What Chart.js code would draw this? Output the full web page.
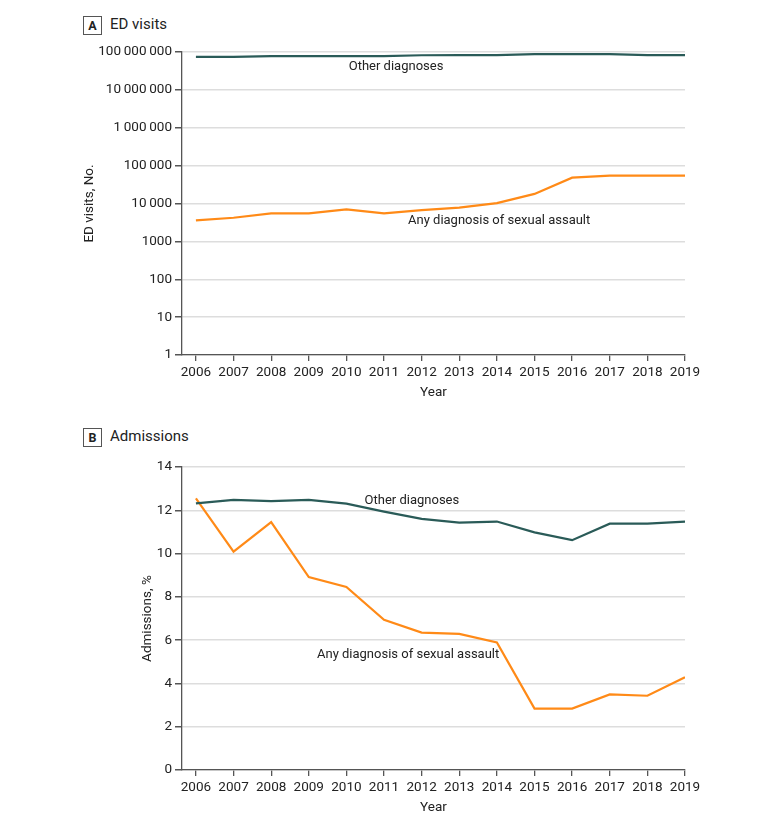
<!DOCTYPE html>
<html>
<head>
<meta charset="utf-8">
<script src="https://cdn.jsdelivr.net/npm/chart.js@4.4.1/dist/chart.umd.min.js"></script>
<style>
  html, body { margin:0; padding:0; background:#fff; }
  #wrap { position:relative; width:780px; height:825px; background:#fff; font-family:Roboto,"Liberation Sans",sans-serif; color:#222; }
  .box { position:absolute; width:17px; height:17px; border:1px solid #555; font-weight:bold; font-size:12.5px; line-height:17px; text-align:center; }
  .ptitle { position:absolute; font-size:15px; line-height:20px; }
  .cv { position:absolute; left:0; width:780px; height:410px; }
</style>
</head>
<body>
<div id="wrap">
  <div class="box" style="left:83px;top:16px;">A</div>
  <div class="ptitle" style="left:110px;top:14px;">ED visits</div>
  <div class="box" style="left:83px;top:428px;">B</div>
  <div class="ptitle" style="left:110px;top:426px;">Admissions</div>
  <div class="cv" style="top:0;"><canvas id="cA"></canvas></div>
  <div class="cv" style="top:415px;"><canvas id="cB"></canvas></div>
</div>
<script>
const years = [2006,2007,2008,2009,2010,2011,2012,2013,2014,2015,2016,2017,2018,2019];

// Panel A: ED visits (No.)
const edOther   = [74000000,74000000,78000000,78000000,78000000,78000000,82000000,83000000,83000000,88000000,88000000,88000000,83000000,83000000];
const edAssault = [3600,4200,5500,5500,7000,5500,6700,7800,10200,17900,48200,54500,54500,54500];
const edTicks   = [1,10,100,1000,10000,100000,1000000,10000000,100000000];

// Panel B: Admissions (%)
const admOther   = [12.32,12.48,12.42,12.48,12.31,11.94,11.6,11.43,11.48,10.98,10.62,11.38,11.38,11.48];
const admAssault = [12.55,10.09,11.45,8.91,8.46,6.94,6.35,6.29,5.89,2.84,2.84,3.49,3.43,4.29];
const admTicks   = [0,2,4,6,8,10,12,14];

const seriesNames = ['Other diagnoses','Any diagnosis of sexual assault'];

const TEAL = '#2a5b58';
const ORANGE = '#ff8a17';
const FONT = 'Roboto,"Liberation Sans",sans-serif';
const TXT = '#222';

function fmtThin(v){
  if (v < 10000) return String(v);
  return String(v).replace(/\B(?=(\d{3})+(?!\d))/g, '\u2009');
}

const labelPlugin = {
  id:'labels',
  afterDatasetsDraw(chart, args, opts){
    const ctx = chart.ctx;
    ctx.save();
    ctx.font = '13px ' + FONT;
    ctx.fillStyle = TXT;
    ctx.textAlign = 'center';
    ctx.textBaseline = 'middle';
    (opts.items||[]).forEach(it=>{
      const x = chart.scales.x.getPixelForValue(it.x);
      const y = chart.scales.y.getPixelForValue(it.y);
      ctx.fillText(it.text, x, y);
    });
    ctx.restore();
  }
};

function makeChart(id, dataOther, dataAssault, yOpts, yTitle, padLeft, items){
  return new Chart(document.getElementById(id), {
    type:'line',
    data:{
      datasets:[
        {label:seriesNames[0], data: years.map((y,i)=>({x:y,y:dataOther[i]})), borderColor:TEAL, borderWidth:2.2, pointRadius:0, tension:0},
        {label:seriesNames[1], data: years.map((y,i)=>({x:y,y:dataAssault[i]})), borderColor:ORANGE, borderWidth:2.2, pointRadius:0, tension:0}
      ]
    },
    options:{
      responsive:true, maintainAspectRatio:false, animation:false,
      layout:{padding:{left:padLeft, right:95, top:52, bottom:0}},
      plugins:{legend:{display:false}, tooltip:{enabled:false}, labels:{items}},
      scales:{
        x:{
          type:'linear', min:2005.63, max:2019,
          afterBuildTicks(s){ s.ticks = years.map(v=>({value:v})); },
          afterFit(s){ s.height = 55; },
          grid:{drawOnChartArea:false, drawTicks:true, tickLength:6, tickColor:'#555', lineWidth:1.3},
          border:{display:true, color:'#555', width:1.3},
          ticks:{autoSkip:false, maxRotation:0, padding:4, color:TXT, font:{family:FONT, size:13.5}, callback:(v)=>String(v)},
          title:{display:true, text:'Year', color:TXT, font:{family:FONT, size:13.5}, padding:{top:4, bottom:9}}
        },
        y: Object.assign({
          afterFit(s){ s.width = 182 - padLeft; },
          grid:{color:'#dddddd', lineWidth:1.5, drawTicks:true, tickLength:7, tickColor:'#555'},
          border:{display:true, color:'#555', width:1.3},
          title:{display:true, text:yTitle, color:TXT, font:{family:FONT, size:13.5}, padding:{top:4,bottom:4}}
        }, yOpts)
      }
    },
    plugins:[labelPlugin]
  });
}

makeChart('cA', edOther, edAssault, {
  type:'logarithmic', min:1, max:100000000,
  afterBuildTicks(s){ s.ticks = edTicks.map(v=>({value:v})); },
  ticks:{padding:3, color:TXT, font:{family:FONT, size:13.5}, callback:(v)=>fmtThin(v)}
}, 'ED visits, No.', 78, [
  {text:seriesNames[0], x:2011.32, y:40000000},
  {text:seriesNames[1], x:2014.06, y:3450}
]);

makeChart('cB', admOther, admAssault, {
  type:'linear', min:0, max:14,
  afterBuildTicks(s){ s.ticks = admTicks.map(v=>({value:v})); },
  ticks:{padding:3, color:TXT, font:{family:FONT, size:13.5}, callback:(v)=>String(v)}
}, 'Admissions, %', 136, [
  {text:seriesNames[0], x:2011.74, y:12.42},
  {text:seriesNames[1], x:2011.64, y:5.33}
]);
</script>
</body>
</html>
